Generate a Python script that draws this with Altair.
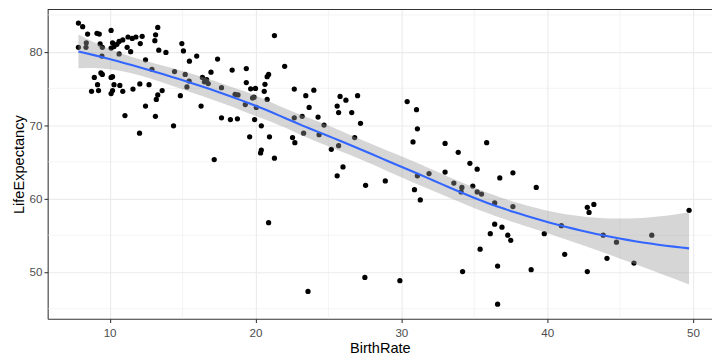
import numpy as np
import pandas as pd
import altair as alt

birth_rate = [7.86, 8.15, 8.49, 9.13, 9.29, 10.1, 7.86, 8.4, 8.38, 9.35, 9.5, 10.2, 10.3, 10.1, 10.5,
              10.65, 10.9, 11.26, 11.55, 11.8, 12.23, 11.2, 11.44, 12.1, 10.65, 9.47, 12.46, 12.9, 9.4,
              9.5, 8.95, 10.1, 10.2, 9.17, 10.3, 10.7, 12.07, 12.7, 8.76, 9.24, 10.1, 10.2, 10.9, 11.6,
              12.46, 11.05, 13.14, 12.05, 13.3, 13.15, 13.1, 13.37, 13.86, 14.95, 15.06, 15.47, 15.97,
              17.4, 14.45, 15.18, 16.36, 16.65, 16.95, 15.45, 16.5, 16.76, 15.3, 18.4, 19.37, 19.37,
              17.67, 13.6, 13.3, 13.2, 14.85, 18.6, 18.8, 19.3, 19.9, 20.05, 16.27, 14.38, 17.67, 18.28,
              18.76, 19.94, 19.6, 17.17, 20.0, 19.67, 21.3, 22.0, 20.9, 20.8, 20.65, 20.6, 19.8, 20.8,
              22.66, 23.45, 20.4, 20.96, 22.54, 22.66, 23.2, 23.3, 24.0, 23.68, 24.29, 24.7, 24.36, 22.7,
              20.4, 20.35, 21.3, 25.2, 25.7, 26.8, 27.2, 25.6, 25.8, 26.2, 27.0, 25.7, 26.6, 26.0, 25.6,
              27.55, 30.4, 31.04, 31.1, 30.8, 28.9, 31.1, 31.9, 30.9, 31.3, 33.0, 33.9, 35.85, 34.7, 35.2,
              33.0, 33.6, 34.15, 34.1, 34.9, 35.2, 35.5, 36.75, 37.65, 36.4, 37.65, 39.25, 36.4, 36.9,
              36.1, 37.3, 37.5, 35.4, 36.6, 38.9, 39.8, 40.97, 41.2, 42.75, 42.87, 43.2, 43.84, 44.75,
              44.1, 45.95, 47.17, 49.73, 42.75, 36.6, 20.9, 23.6, 27.5, 29.9, 34.2]
life_expectancy = [83.9, 83.4, 82.4, 82.5, 82.4, 82.9, 80.6, 81.2, 80.6, 81.05, 80.6, 81.2, 80.7, 80.5, 81.0,
                   81.4, 81.6, 82.0, 81.8, 82.0, 82.1, 80.6, 80.0, 81.1, 79.7, 79.4, 78.9, 77.6, 77.1,
                   76.9, 76.5, 76.5, 76.6, 75.5, 75.5, 75.4, 75.6, 75.5, 74.6, 74.7, 74.3, 74.7, 74.6, 74.9,
                   72.6, 71.3, 71.2, 68.9, 83.3, 82.3, 81.5, 80.2, 79.9, 81.1, 80.1, 78.7, 79.4,
                   79.0, 77.3, 76.9, 76.5, 76.2, 77.2, 76.0, 75.9, 75.65, 75.2, 77.5, 77.7, 75.8,
                   75.1, 74.7, 74.1, 73.5, 74.0, 74.2, 74.1, 72.8, 73.8, 72.4, 72.6, 69.9, 71.0, 70.75,
                   70.85, 70.75, 68.4, 65.3, 75.0, 74.95, 82.2, 78.0, 76.9, 76.6, 75.55, 74.6, 73.7, 73.5,
                   74.9, 74.0, 69.9, 68.4, 68.3, 71.0, 71.2, 68.9, 74.76, 72.4, 71.1, 70.0, 68.7, 67.6,
                   66.6, 66.2, 65.5, 66.7, 67.2, 68.3, 70.25, 72.6, 73.9, 73.4, 74.0, 71.7, 71.7, 64.3, 63.1,
                   61.8, 73.2, 72.1, 69.5, 67.7, 62.4, 63.1, 63.4, 61.2, 59.8, 67.5, 66.3, 67.6, 64.8, 64.0,
                   63.6, 62.1, 61.5, 60.9, 61.7, 60.9, 60.6, 62.8, 63.5, 59.4, 58.9, 61.5, 56.5, 56.1,
                   55.2, 55.0, 54.3, 53.1, 50.8, 50.3, 55.2, 56.3, 52.4, 58.8, 58.1, 59.2, 55.0, 54.05,
                   51.85, 51.2, 55.0, 58.4, 50.05, 45.6, 56.7, 47.35, 49.25, 48.8, 50.05]

x_major = [10, 20, 30, 40, 50]
x_minor = [15, 25, 35, 45]
y_major = [50, 60, 70, 80]
y_minor = [45, 55, 65, 75, 85]

# ---- loess smooth (span 0.75, degree 2, kd-tree + cubic Hermite interpolation
#      like R's loess default) with 95% confidence band, as geom_smooth does
x = np.asarray(birth_rate, float)
y = np.asarray(life_expectancy, float)
n = len(x)
span = 0.75
q = int(np.floor(n * span))


def lrows(x0):
    d = np.abs(x - x0)
    h = np.sort(d)[q - 1]
    u = np.clip(d / h, 0, 1)
    w = (1 - u ** 3) ** 3
    X = np.column_stack([np.ones(n), x - x0, (x - x0) ** 2])
    XtW = X.T * w
    A = np.linalg.solve(XtW @ X, XtW)
    return A[0], A[1]


# kd-tree vertices
fc = int(np.floor(n * span * 0.2))
lo_b, hi_b = x.min(), x.max()
mu = 0.005 * (hi_b - lo_b)
verts = {lo_b - mu, hi_b + mu}


def split(vals):
    if len(vals) <= fc:
        return
    s = np.sort(vals)
    m = (len(s) + 1) // 2
    v = (s[m - 1] + s[m]) / 2 if len(s) % 2 == 0 else s[m - 1]
    verts.add(v)
    split(s[s <= v] if len(s[s <= v]) < len(s) else s[:m])
    split(s[s > v] if len(s[s > v]) < len(s) else s[m:])


split(x)
V = np.array(sorted(verts))
VR = [lrows(v) for v in V]


def interp_row(x0):
    j = min(max(np.searchsorted(V, x0) - 1, 0), len(V) - 2)
    a, b = V[j], V[j + 1]
    hh = b - a
    t = (x0 - a) / hh
    h00 = 2 * t ** 3 - 3 * t ** 2 + 1
    h10 = t ** 3 - 2 * t ** 2 + t
    h01 = -2 * t ** 3 + 3 * t ** 2
    h11 = t ** 3 - t ** 2
    return (h00 * VR[j][0] + h10 * hh * VR[j][1] +
            h01 * VR[j + 1][0] + h11 * hh * VR[j + 1][1])


L = np.array([interp_row(v) for v in x])
res = y - L @ y
IL = np.eye(n) - L
one_delta = np.trace(IL.T @ IL)
sigma = np.sqrt(np.sum(res ** 2) / one_delta)
xs = np.linspace(x.min(), x.max(), 80)
Lp = np.array([interp_row(v) for v in xs])
fit = Lp @ y
se = sigma * np.sqrt(np.sum(Lp ** 2, axis=1))
tq = 1.973
smooth = pd.DataFrame({"x": xs, "fit": fit, "lo": fit - tq * se, "hi": fit + tq * se})

pts = pd.DataFrame({"BirthRate": birth_rate, "LifeExpectancy": life_expectancy})

W, H = 670, 312
xdom = [5.751, 51.30]
ydom = [43.61, 85.75]
FONT = "Liberation Sans"

xscale = alt.Scale(domain=xdom, nice=False, zero=False)
yscale = alt.Scale(domain=ydom, nice=False, zero=False)

minor_x = alt.Chart(pd.DataFrame({"v": x_minor})).mark_rule(
    color="#EBEBEB", strokeWidth=0.55).encode(x=alt.X("v:Q", scale=xscale))
minor_y = alt.Chart(pd.DataFrame({"v": y_minor})).mark_rule(
    color="#EBEBEB", strokeWidth=0.55).encode(y=alt.Y("v:Q", scale=yscale))

points = alt.Chart(pts).mark_circle(size=28, color="black", opacity=1).encode(
    x=alt.X("BirthRate:Q", scale=xscale,
            axis=alt.Axis(values=x_major, title="BirthRate", grid=True)),
    y=alt.Y("LifeExpectancy:Q", scale=yscale,
            axis=alt.Axis(values=y_major, title="LifeExpectancy", grid=True)),
)

band = alt.Chart(smooth).mark_area(color="#999999", opacity=0.4, clip=True).encode(
    x=alt.X("x:Q", scale=xscale), y=alt.Y("lo:Q", scale=yscale), y2="hi:Q")
line = alt.Chart(smooth).mark_line(color="#3366FF", strokeWidth=2.1, clip=True).encode(
    x=alt.X("x:Q", scale=xscale), y=alt.Y("fit:Q", scale=yscale))

top = alt.Chart(pd.DataFrame({"a": [0]})).mark_rule(color="#333333", strokeWidth=1.07).encode(
    y=alt.value(0), x=alt.value(0), x2=alt.value(W))

chart = alt.layer(minor_x, minor_y, points, band, line, top).properties(
    width=W, height=H,
    autosize=alt.AutoSizeParams(type="none"),
    padding={"left": 40, "top": 0, "right": 0, "bottom": 36},
    background="white",
).configure_view(strokeOpacity=0).configure_axis(
    gridColor="#EBEBEB", gridWidth=1.07,
    domainColor="#333333", domainWidth=1.07,
    tickColor="#333333", tickWidth=1.07, tickSize=3.7,
    labelColor="#4D4D4D", labelFontSize=11.7, labelFont=FONT,
    titleColor="black", titleFontSize=14.7, titleFont=FONT, titleFontWeight="normal",
).configure_axisX(labelPadding=5, titlePadding=2).configure_axisY(labelPadding=2, titlePadding=3)

chart.save("out.html", embed_options={"renderer": "svg", "actions": False})
